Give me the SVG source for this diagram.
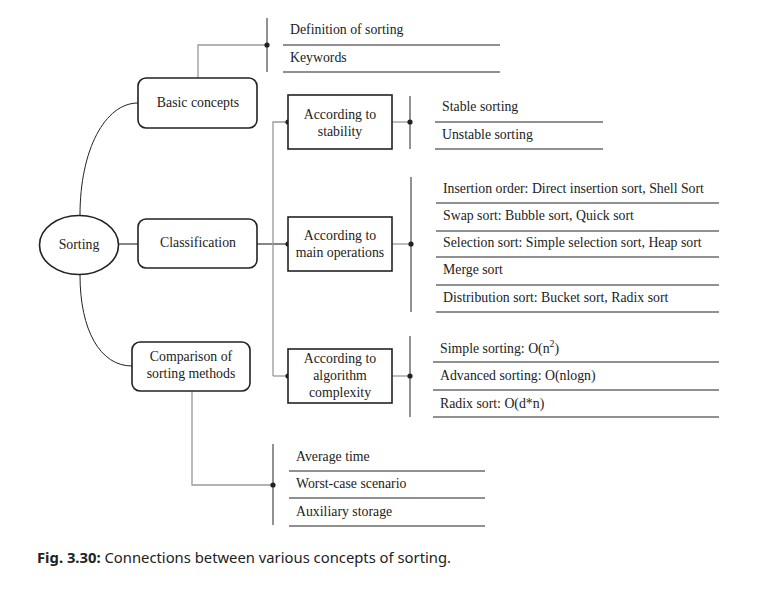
<svg xmlns="http://www.w3.org/2000/svg" width="775" height="590" viewBox="0 0 775 590">
<style>
text{font-family:"Liberation Serif","Times New Roman","DejaVu Serif",serif;font-size:13.8px;fill:#222}
.c{text-anchor:middle}
.box{fill:#fff;stroke:#222;stroke-width:1.6}
.conn{fill:none;stroke:#999;stroke-width:1.3}
.bar{fill:none;stroke:#777;stroke-width:1.6}
.ul{fill:none;stroke:#222;stroke-width:1.2}
.curve{fill:none;stroke:#222;stroke-width:1}
.dot{fill:#222}
.cap{font-family:"Noto Sans","Open Sans","Liberation Sans",sans-serif;font-size:14.8px;fill:#222}
</style>
<rect width="775" height="590" fill="#fff"/>
<g id="connectors">
<path class="curve" d="M80,215 C80,150 105,103 138,103"/>
<path class="curve" d="M80,275 C80,330 100,366 132,366"/>
<path class="conn" d="M118,244 H138" style="stroke:#444"/>
<path class="conn" d="M198,78 V45 H267"/>
<path class="conn" d="M257,244 H288" style="stroke:#444"/>
<path class="conn" d="M273,376 V122 H288"/>
<path class="conn" d="M273,376 H288"/>
<path class="conn" d="M392,122 H410"/>
<path class="conn" d="M392,244 H411"/>
<path class="conn" d="M392,376 H410"/>
<path class="conn" d="M192,391 V485 H273"/>
<path class="bar" d="M267,18 V72"/>
<path class="bar" d="M410,96 V149"/>
<path class="bar" d="M411,177 V312"/>
<path class="bar" d="M410,336 V417"/>
<path class="bar" d="M273,444 V525"/>
<circle class="dot" cx="267" cy="45" r="2.6"/>
<circle class="dot" cx="410" cy="122" r="2.6"/>
<circle class="dot" cx="288" cy="122" r="2.6"/>
<circle class="dot" cx="288" cy="244" r="2.6"/>
<circle class="dot" cx="411" cy="244" r="2.6"/>
<circle class="dot" cx="288" cy="376" r="2.6"/>
<circle class="dot" cx="410" cy="376" r="2.6"/>
<circle class="dot" cx="273" cy="485" r="2.6"/>
</g>
<g id="sorting">
<ellipse class="box" cx="79" cy="245" rx="39.5" ry="29.5"/>
<text class="c" x="79" y="249">Sorting</text>
</g>
<g id="basic-concepts">
<rect class="box" x="138" y="78" width="119" height="50" rx="8"/>
<text class="c" x="198" y="107">Basic concepts</text>
</g>
<g id="classification">
<rect class="box" x="138" y="219" width="119" height="49" rx="8"/>
<text class="c" x="198" y="247">Classification</text>
</g>
<g id="comparison">
<rect class="box" x="132" y="342" width="118" height="49" rx="8"/>
<text class="c" x="191" y="361">Comparison of</text>
<text class="c" x="191" y="378">sorting methods</text>
</g>
<g id="basic-list">
<text x="290" y="34">Definition of sorting</text>
<path class="ul" d="M283,45 H500"/>
<text x="290" y="62">Keywords</text>
<path class="ul" d="M283,72 H500"/>
</g>
<g id="stability">
<rect class="box" x="288" y="95" width="104" height="54" rx="0"/>
<text class="c" x="340" y="119">According to</text>
<text class="c" x="340" y="136">stability</text>
</g>
<g id="stability-list">
<text x="442" y="111">Stable sorting</text>
<path class="ul" d="M435,122 H603"/>
<text x="442" y="139">Unstable sorting</text>
<path class="ul" d="M435,149 H603"/>
</g>
<g id="main-operations">
<rect class="box" x="288" y="217" width="104" height="54"/>
<text class="c" x="340" y="240">According to</text>
<text class="c" x="340" y="257">main operations</text>
</g>
<g id="operations-list">
<text x="443" y="193">Insertion order: Direct insertion sort, Shell Sort</text>
<path class="ul" d="M436,203 H719"/>
<text x="443" y="220">Swap sort: Bubble sort, Quick sort</text>
<path class="ul" d="M436,231 H719"/>
<text x="443" y="247">Selection sort: Simple selection sort, Heap sort</text>
<path class="ul" d="M436,257 H719"/>
<text x="443" y="274">Merge sort</text>
<path class="ul" d="M436,285 H719"/>
<text x="443" y="302">Distribution sort: Bucket sort, Radix sort</text>
<path class="ul" d="M436,312 H719"/>
</g>
<g id="complexity">
<rect class="box" x="288" y="349" width="104" height="54"/>
<text class="c" x="340" y="363">According to</text>
<text class="c" x="340" y="380">algorithm</text>
<text class="c" x="340" y="397">complexity</text>
</g>
<g id="complexity-list">
<text x="440" y="353">Simple sorting: O(n<tspan dy="-6" font-size="10">2</tspan><tspan dy="6">)</tspan></text>
<path class="ul" d="M433,362 H719"/>
<text x="440" y="380">Advanced sorting: O(nlogn)</text>
<path class="ul" d="M433,390 H719"/>
<text x="440" y="408">Radix sort: O(d*n)</text>
<path class="ul" d="M433,417 H719"/>
</g>
<g id="comparison-list">
<text x="296" y="461">Average time</text>
<path class="ul" d="M289,471 H485"/>
<text x="296" y="488">Worst-case scenario</text>
<path class="ul" d="M289,498 H485"/>
<text x="296" y="516">Auxiliary storage</text>
<path class="ul" d="M289,526 H485"/>
</g>
<text class="cap" x="37" y="563"><tspan font-weight="bold">Fig. 3.30:</tspan> Connections between various concepts of sorting.</text>
</svg>
